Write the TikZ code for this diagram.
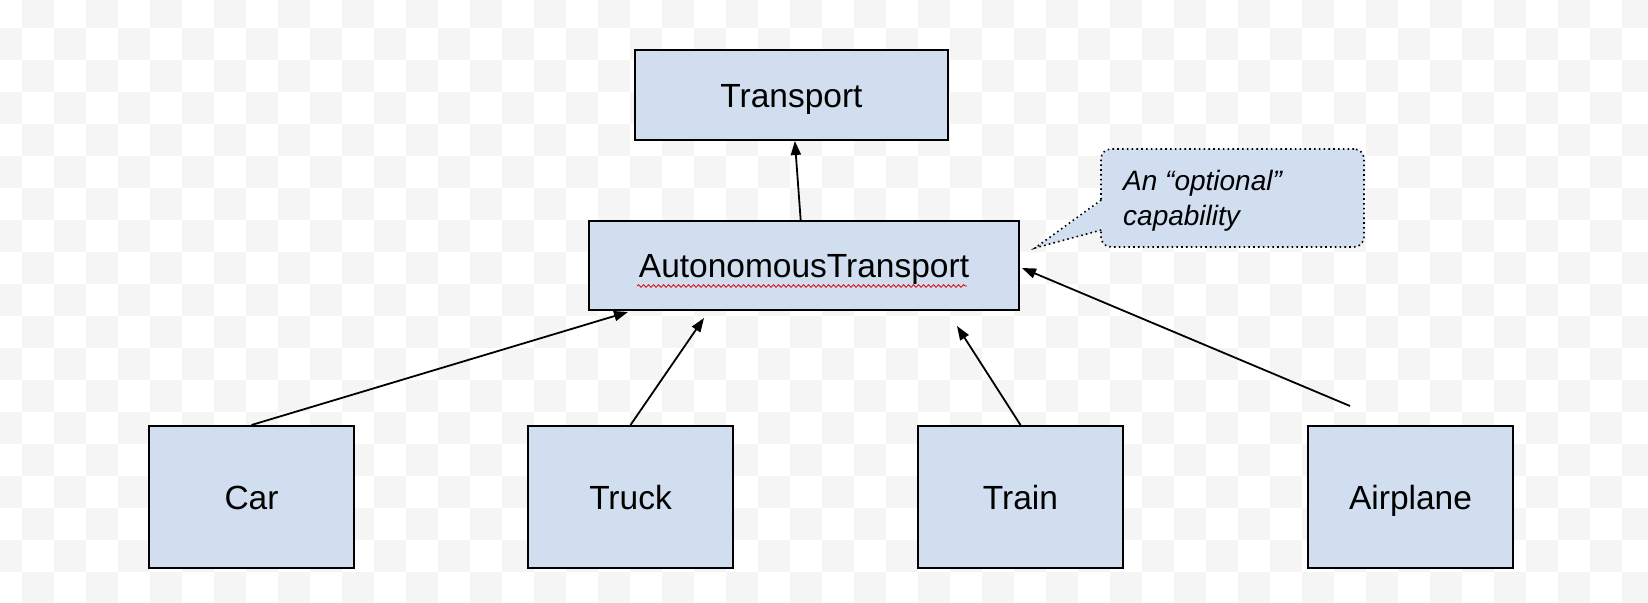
\documentclass[tikz,border=0pt]{standalone}
\usepackage{fontspec}
\setmainfont{Liberation Sans}
\usetikzlibrary{arrows.meta,positioning,calc,decorations.pathmorphing}
\definecolor{boxblue}{RGB}{208,222,239}
\definecolor{checkgray}{RGB}{245,245,245}

\begin{document}
\begin{tikzpicture}[
  x=1pt, y=-1pt,
  box/.style={draw, line width=2pt, fill=boxblue, inner sep=0pt, text height=24pt, text depth=0pt, font=\fontsize{33.5}{40}\selectfont},
  arrow/.style={-{Triangle[length=14pt,width=10pt]}, line width=1.8pt},
  noteline/.style={draw, line width=1.6pt, dash pattern=on 1.6pt off 3.2pt},
  note/.style={noteline, fill=boxblue, rounded corners=10pt},
  notetext/.style={align=left, inner sep=0pt, font=\itshape\fontsize{28}{35}\selectfont},
  squiggle/.style={draw=red!85!black, line width=0.8pt, decorate, decoration={snake, amplitude=1.3pt, segment length=5pt}}
]
\useasboundingbox (0,0) rectangle (1648,602);
% checkerboard behind the diagram
\begin{scope}
\clip (0,0) rectangle (1648,602);
\foreach \i in {0,2,...,50}
  \foreach \j in {1,3,...,17}
    \fill[checkgray] (-10+32*\i,-4+32*\j) rectangle ++(32,32);
\foreach \i in {1,3,...,51}
  \foreach \j in {0,2,...,18}
    \fill[checkgray] (-10+32*\i,-4+32*\j) rectangle ++(32,32);
\end{scope}

\node[box, minimum width=313pt, minimum height=90pt] (tr) at (791.5,95) {Transport};
\node[box, minimum width=430pt, minimum height=89pt] (at) at (804,265.5) {AutonomousTransport};
\node[box, minimum width=205pt, minimum height=142pt] (car) at (251.5,497) {Car};
\node[box, minimum width=205pt, minimum height=142pt, right=172pt of car] (truck) {Truck};
\node[box, minimum width=205pt, minimum height=142pt, right=183pt of truck] (train) {Train};
\node[box, minimum width=205pt, minimum height=142pt, right=183pt of train] (plane) {Airplane};

% spell-check underline
\coordinate (squigA) at (637,286);
\coordinate (squigB) at (967,286);
\draw[squiggle] (squigA) -- (squigB);

% callout
\node[note, minimum width=263pt, minimum height=98pt] (note) at (1232.5,198) {};
\coordinate (noteTip) at (1035,248);
\fill[boxblue] (noteTip) -- ($(note.west)+(3,2)$) -- ($(note.west)+(3,32)$) -- cycle;
\draw[noteline] ($(note.west)+(1,2)$) -- (noteTip) -- ($(note.west)+(1,32)$);
\node[notetext, anchor=north west] (noteText) at (1123,170) {An “optional”\\capability};

\coordinate (carTip) at (628,312);
\coordinate (truckTip) at (704,318);
\coordinate (trainTip) at (957,326);
\coordinate (planeTail) at (1350,406);
\coordinate (planeTip) at (1022,268);
\draw[arrow] (at) -- (tr);
\draw[arrow] (car.north) -- (carTip);
\draw[arrow] (truck.north) -- (truckTip);
\draw[arrow] (train.north) -- (trainTip);
\draw[arrow] (planeTail) -- (planeTip);
\end{tikzpicture}
\end{document}
